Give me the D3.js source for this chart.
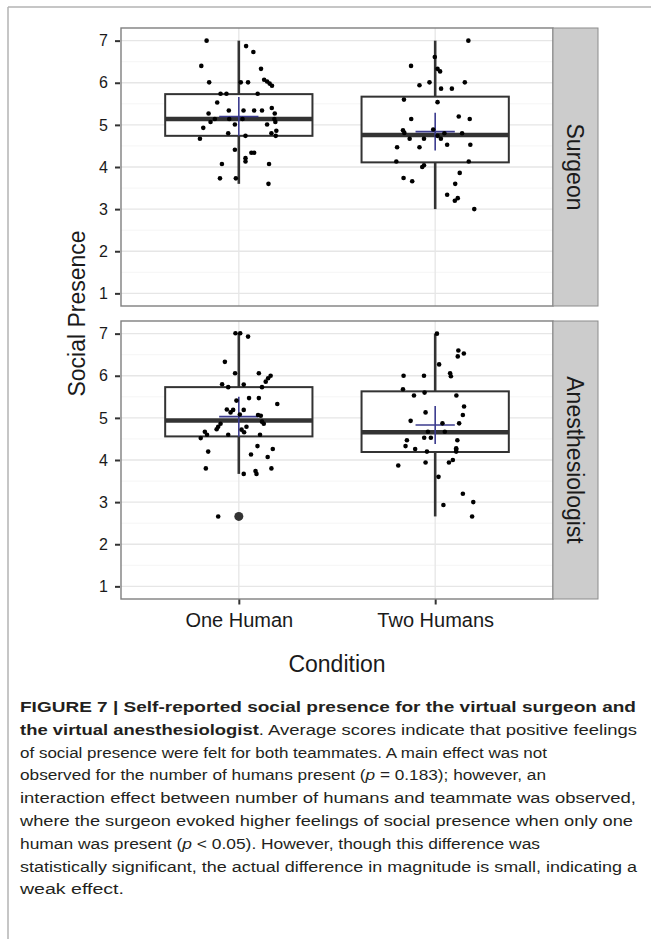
<!DOCTYPE html>
<html>
<head>
<meta charset="utf-8">
<script src="https://cdn.jsdelivr.net/npm/d3@7"></script>
<style>
  body { margin: 0; background: #fff; }
  svg { display: block; font-family: "Liberation Sans", Arial, Helvetica, sans-serif; }
</style>
</head>
<body>
<svg id="fig" width="651" height="939"></svg>
<script>
// ---- data ----
var conditions = ["One Human", "Two Humans"];
var teammates = ["Surgeon", "Anesthesiologist"];
var yTicks = [1, 2, 3, 4, 5, 6, 7];
var yMinor = [1.5, 2.5, 3.5, 4.5, 5.5, 6.5];

// box stats per condition: q1, median, q3, whisker low/high, mean, mean +- error, outliers
var surgeonBox = [
  {q1: 4.74, med: 5.14, q3: 5.73, lo: 3.60, hi: 7.00, mean: 5.20, err: 0.46, out: []},
  {q1: 4.11, med: 4.76, q3: 5.67, lo: 3.00, hi: 7.00, mean: 4.84, err: 0.45, out: []}
];
var anesthBox = [
  {q1: 4.56, med: 4.94, q3: 5.73, lo: 3.67, hi: 7.00, mean: 5.03, err: 0.47, out: [2.66]},
  {q1: 4.19, med: 4.66, q3: 5.63, lo: 2.66, hi: 7.00, mean: 4.83, err: 0.45, out: []}
];

// jittered responses: [horizontal jitter (category units), score]
var surgeonOne = [
  [-0.164, 7.00], [0.037, 6.87], [0.074, 6.73], [-0.191, 6.40], [0.113, 6.33],
  [-0.151, 6.01], [0.010, 6.01], [0.047, 6.01], [0.129, 6.07], [0.144, 6.03],
  [0.157, 5.98], [0.169, 5.93], [-0.093, 5.74], [-0.063, 5.74], [0.096, 5.74],
  [-0.110, 5.53], [-0.154, 5.27], [-0.051, 5.34], [0.024, 5.34], [0.078, 5.34],
  [0.118, 5.34], [0.168, 5.40], [-0.181, 4.93], [-0.144, 5.07], [-0.122, 5.14],
  [-0.049, 5.14], [0.019, 5.14], [0.183, 5.27], [0.181, 5.14], [0.186, 5.07],
  [-0.198, 4.67], [-0.020, 5.01], [0.144, 5.01], [0.191, 4.86], [-0.054, 4.80],
  [0.034, 4.74], [0.166, 4.80], [0.188, 4.74], [-0.020, 4.41], [0.064, 4.34],
  [0.078, 4.34], [0.034, 4.21], [0.034, 4.13], [-0.086, 4.07], [0.154, 4.07],
  [-0.096, 3.73], [-0.015, 3.73], [0.151, 3.60]
];
var surgeonTwo = [
  [0.169, 7.00], [-0.002, 6.61], [-0.123, 6.40], [0.012, 6.33], [0.025, 6.27],
  [-0.080, 5.94], [-0.029, 6.01], [0.030, 5.86], [0.085, 5.86], [0.151, 6.01],
  [-0.159, 5.60], [0.012, 5.54], [-0.122, 5.14], [0.120, 5.20], [0.176, 5.14],
  [-0.164, 4.87], [-0.157, 4.81], [-0.010, 4.89], [0.047, 4.80], [0.137, 4.80],
  [-0.130, 4.67], [-0.057, 4.67], [0.012, 4.74], [0.029, 4.67], [-0.194, 4.47],
  [-0.080, 4.47], [0.061, 4.53], [0.179, 4.53], [-0.198, 4.13], [0.171, 4.13],
  [-0.057, 4.04], [-0.066, 4.00], [0.125, 3.86], [-0.161, 3.74], [-0.117, 3.66],
  [0.102, 3.60], [0.061, 3.34], [0.115, 3.26], [0.100, 3.20], [0.199, 3.00]
];
var anesthOne = [
  [-0.017, 7.01], [0.007, 7.01], [0.047, 6.93], [-0.071, 6.33], [-0.019, 6.06],
  [0.102, 6.06], [0.137, 5.86], [0.149, 5.94], [0.162, 6.00], [-0.085, 5.80],
  [-0.054, 5.73], [0.025, 5.79], [0.118, 5.73], [0.052, 5.47], [0.102, 5.47],
  [0.196, 5.33], [-0.012, 5.41], [-0.061, 5.20], [-0.042, 5.13], [-0.029, 5.19],
  [0.025, 5.19], [0.098, 5.07], [0.112, 5.05], [0.118, 4.91], [0.127, 4.86],
  [0.005, 5.08], [-0.093, 4.86], [-0.105, 4.79], [-0.113, 4.73], [0.039, 4.79],
  [0.014, 4.72], [0.027, 4.66], [-0.173, 4.67], [-0.162, 4.60], [-0.194, 4.52],
  [-0.054, 4.60], [0.108, 4.60], [0.095, 4.33], [-0.156, 4.20], [0.173, 4.26],
  [0.062, 4.13], [0.147, 4.07], [-0.168, 3.80], [0.166, 3.80], [0.025, 3.67],
  [0.085, 3.74], [0.090, 3.67], [-0.105, 2.66]
];
var anesthTwo = [
  [0.009, 7.00], [0.118, 6.60], [0.146, 6.53], [0.115, 6.46], [0.020, 6.27],
  [-0.161, 6.00], [-0.057, 6.00], [0.076, 6.06], [0.080, 5.99], [-0.164, 5.68],
  [-0.054, 5.60], [-0.108, 5.53], [0.108, 5.53], [0.147, 5.27], [-0.049, 5.13],
  [0.141, 5.07], [-0.125, 4.93], [0.037, 4.87], [0.122, 4.87], [-0.037, 4.67],
  [0.049, 4.67], [-0.056, 4.53], [-0.022, 4.53], [-0.144, 4.47], [-0.151, 4.33],
  [-0.102, 4.26], [-0.042, 4.20], [0.113, 4.47], [0.107, 4.28], [0.107, 4.25],
  [0.107, 4.20], [-0.188, 3.87], [-0.049, 3.94], [0.070, 3.94], [0.090, 4.00],
  [0.017, 3.60], [0.141, 3.20], [0.194, 3.00], [0.042, 2.93], [0.188, 2.66]
];

// caption: lines of [text, style] runs; b = bold, i = italic
var caption = [
  [["FIGURE 7 | Self-reported social presence for the virtual surgeon and", "b"]],
  [["the virtual anesthesiologist", "b"], [". Average scores indicate that positive feelings", ""]],
  [["of social presence were felt for both teammates. A main effect was not", ""]],
  [["observed for the number of humans present (", ""], ["p", "i"], [" = 0.183); however, an", ""]],
  [["interaction effect between number of humans and teammate was observed,", ""]],
  [["where the surgeon evoked higher feelings of social presence when only one", ""]],
  [["human was present (", ""], ["p", "i"], [" < 0.05). However, though this difference was", ""]],
  [["statistically significant, the actual difference in magnitude is small, indicating a", ""]],
  [["weak effect.", ""]]
];

// layout: right end of each caption line (the original typeface sets narrower than ours)
var capLineEnd = [636, 637, 547, 546, 636, 633, 540, 637, 124];

var panels = [
  {name: teammates[0], box: surgeonBox, pts: [surgeonOne, surgeonTwo], top: 28, bottom: 306},
  {name: teammates[1], box: anesthBox, pts: [anesthOne, anesthTwo], top: 321, bottom: 599}
];

// ---- layout ----
var left = 121, right = 553, stripW = 45;
var svg = d3.select("#fig");

// page frame (top and left rules)
svg.append("line").attr("x1", 8).attr("x2", 651).attr("y1", 7).attr("y2", 7)
  .attr("stroke", "#b3b3b3").attr("stroke-width", 1.5);
svg.append("line").attr("x1", 8).attr("x2", 8).attr("y1", 7).attr("y2", 939)
  .attr("stroke", "#b3b3b3").attr("stroke-width", 1.5);

var x = d3.scaleLinear().domain([0.4, 2.6]).range([left, right]);

panels.forEach(function (p, pi) {
  var y = d3.scaleLinear().domain([0.7, 7.3]).range([p.bottom, p.top]);
  var g = svg.append("g");

  g.append("rect").attr("x", left).attr("y", p.top)
    .attr("width", right - left).attr("height", p.bottom - p.top).attr("fill", "#fff");

  // grid
  g.selectAll(".minor").data(yMinor).enter().append("line")
    .attr("x1", left).attr("x2", right)
    .attr("y1", function (d) { return y(d); }).attr("y2", function (d) { return y(d); })
    .attr("stroke", "#f5f5f5").attr("stroke-width", 1);
  g.selectAll(".major").data(yTicks).enter().append("line")
    .attr("x1", left).attr("x2", right)
    .attr("y1", function (d) { return y(d); }).attr("y2", function (d) { return y(d); })
    .attr("stroke", "#e6e6e6").attr("stroke-width", 1.3);
  g.selectAll(".vmajor").data([1, 2]).enter().append("line")
    .attr("x1", function (d) { return x(d); }).attr("x2", function (d) { return x(d); })
    .attr("y1", p.top).attr("y2", p.bottom)
    .attr("stroke", "#e6e6e6").attr("stroke-width", 1.3);

  // boxplots
  p.box.forEach(function (b, i) {
    var cx = x(i + 1), hw = x(1.375) - x(1);
    var bg = g.append("g").attr("stroke", "#333333");
    bg.append("line").attr("x1", cx).attr("x2", cx).attr("y1", y(b.hi)).attr("y2", y(b.q3))
      .attr("stroke-width", 2.6);
    bg.append("line").attr("x1", cx).attr("x2", cx).attr("y1", y(b.q1)).attr("y2", y(b.lo))
      .attr("stroke-width", 2.6);
    bg.append("rect").attr("x", cx - hw).attr("y", y(b.q3))
      .attr("width", 2 * hw).attr("height", y(b.q1) - y(b.q3))
      .attr("fill", "#fff").attr("stroke-width", 2);
    bg.append("line").attr("x1", cx - hw).attr("x2", cx + hw)
      .attr("y1", y(b.med)).attr("y2", y(b.med)).attr("stroke-width", 4.5);
    bg.selectAll(".out").data(b.out).enter().append("circle")
      .attr("cx", cx).attr("cy", function (d) { return y(d); })
      .attr("r", 4.5).attr("fill", "#333333").attr("stroke", "none");

    // mean +- error cross
    var mg = g.append("g").attr("stroke", "#3b3b8e").attr("stroke-width", 1.6);
    mg.append("line").attr("x1", x(i + 1 - 0.1)).attr("x2", x(i + 1 + 0.1))
      .attr("y1", y(b.mean)).attr("y2", y(b.mean));
    mg.append("line").attr("x1", cx).attr("x2", cx)
      .attr("y1", y(b.mean + b.err)).attr("y2", y(b.mean - b.err));
  });

  // jittered points
  p.pts.forEach(function (arr, i) {
    g.selectAll(".pt" + i).data(arr).enter().append("circle")
      .attr("cx", function (d) { return x(i + 1 + d[0]); })
      .attr("cy", function (d) { return y(d[1]); })
      .attr("r", 2.3).attr("fill", "#000");
  });

  // panel border
  g.append("rect").attr("x", left).attr("y", p.top)
    .attr("width", right - left).attr("height", p.bottom - p.top)
    .attr("fill", "none").attr("stroke", "#7f7f7f").attr("stroke-width", 1.4);

  // y axis
  var ya = g.append("g").attr("transform", "translate(" + (left - 1) + ",0)")
    .call(d3.axisLeft(y).tickValues(yTicks).tickSize(5).tickPadding(7).tickFormat(d3.format("d")));
  ya.select(".domain").remove();
  ya.selectAll(".tick line").attr("stroke", "#333").attr("stroke-width", 2);
  ya.selectAll(".tick text").attr("font-size", 16).attr("fill", "#1a1a1a")
    .attr("font-family", null);

  // strip
  g.append("rect").attr("x", right).attr("y", p.top)
    .attr("width", stripW).attr("height", p.bottom - p.top)
    .attr("fill", "#cccccc").attr("stroke", "#8c8c8c").attr("stroke-width", 1);
  g.append("text")
    .attr("transform", "translate(" + (right + stripW / 2) + "," + ((p.top + p.bottom) / 2) + ") rotate(90)")
    .attr("text-anchor", "middle").attr("dy", "0.35em")
    .attr("font-size", 23).attr("fill", "#1a1a1a")
    .text(p.name);

  // x axis on bottom panel only
  if (pi === panels.length - 1) {
    var xa = g.append("g").attr("transform", "translate(0," + (p.bottom + 0.5) + ")")
      .call(d3.axisBottom(x).tickValues([1, 2]).tickSize(5).tickPadding(8)
        .tickFormat(function (d) { return conditions[d - 1]; }));
    xa.select(".domain").remove();
    xa.selectAll(".tick line").attr("stroke", "#333").attr("stroke-width", 2);
    xa.selectAll(".tick text").attr("font-size", 20).attr("fill", "#1a1a1a")
      .attr("font-family", null);
  }
});

// axis titles
svg.append("text")
  .attr("x", (left + right) / 2).attr("y", 672)
  .attr("text-anchor", "middle").attr("font-size", 23).attr("fill", "#1a1a1a")
  .text("Condition");
svg.append("text")
  .attr("transform", "translate(85," + ((panels[0].top + panels[1].bottom) / 2) + ") rotate(-90)")
  .attr("text-anchor", "middle").attr("font-size", 23).attr("fill", "#1a1a1a")
  .text("Social Presence");

// caption
var capX = 20, capY = 712, capLH = 22.8;
var lines = svg.append("g").attr("fill", "#231f20").attr("font-size", 15.5)
  .selectAll("text").data(caption).enter().append("text")
  .attr("x", capX).attr("y", function (d, i) { return capY + i * capLH; });
lines.selectAll("tspan").data(function (d) { return d; }).enter().append("tspan")
  .attr("font-weight", function (d) { return d[1] === "b" ? "bold" : null; })
  .attr("font-style", function (d) { return d[1] === "i" ? "italic" : null; })
  .text(function (d) { return d[0]; });

// fit each line to the measure it has in the original
lines.each(function (d, i) {
  d3.select(this).attr("textLength", capLineEnd[i] - capX).attr("lengthAdjust", "spacingAndGlyphs");
});
</script>
</body>
</html>
